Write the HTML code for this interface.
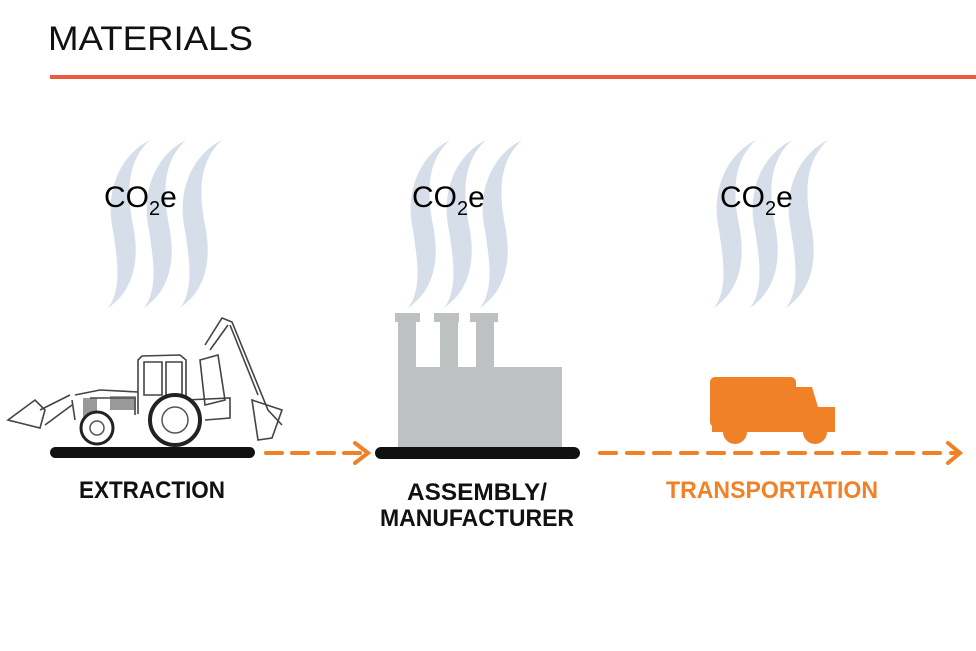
<!DOCTYPE html>
<html><head><meta charset="utf-8"><style>
html,body{margin:0;padding:0;background:#fff;}
svg{display:block}
</style></head><body>
<svg width="976" height="651" viewBox="0 0 976 651" xmlns="http://www.w3.org/2000/svg">
<defs>
<g id="wisp">
<path d="M42,0 C12,15 -2,50 4,85 C10,120 14,150 0,168 C26,150 32,120 25,85 C18,50 20,20 42,0 Z" fill="#d6deea"/>
</g>
<g id="smoke">
<use href="#wisp" x="0" y="0"/>
<use href="#wisp" x="36" y="0"/>
<use href="#wisp" x="72" y="0"/>
</g>
</defs>
<text x="48" y="50" font-family="Liberation Sans, sans-serif" font-size="34" fill="#111" textLength="205" lengthAdjust="spacingAndGlyphs">MATERIALS</text>
<rect x="50" y="75" width="926" height="4" fill="#ec5b3d"/>

<use href="#smoke" x="108" y="140"/>
<use href="#smoke" x="408" y="140"/>
<use href="#smoke" x="714" y="140"/>

<g font-family="Liberation Sans, sans-serif" fill="#000">
<text x="104" y="207" font-size="30">CO<tspan font-size="20" dy="8">2</tspan><tspan dy="-8">e</tspan></text>
<text x="412" y="207" font-size="30">CO<tspan font-size="20" dy="8">2</tspan><tspan dy="-8">e</tspan></text>
<text x="720" y="207" font-size="30">CO<tspan font-size="20" dy="8">2</tspan><tspan dy="-8">e</tspan></text>
</g>

<!-- tractor -->
<g fill="none" stroke="#444" stroke-width="1.6">
<path d="M138,414 L138,360 L142,356 L180,355 L186,360 L186,400"/>
<path d="M144,362 L162,362 L162,395 L144,395 Z M166,362 L182,362 L182,395 L166,395 Z"/>
<path d="M75,395 L100,390 L138,392 M72,400 L75,420 M90,398 L135,398 L135,415"/>
<path d="M8,420 L35,400 L45,410 L40,428 Z"/>
<path d="M40,410 L70,395 M45,425 L72,405"/>
<path d="M205,345 L222,318 L232,322 L268,410 L282,425 M210,350 L228,325 M230,325 L258,395"/>
<path d="M252,400 L282,410 L272,438 L258,440 Z"/>
<path d="M200,360 L218,355 L225,400 L205,405 Z"/>
<path d="M186,400 L230,398 L230,418 L205,420"/>
</g>
<g fill="#555">
<rect x="110" y="396" width="26" height="14" opacity=".6"/>
<rect x="83" y="398" width="14" height="22" opacity=".6"/>
</g>
<circle cx="97" cy="428" r="16" fill="#fff" stroke="#222" stroke-width="3"/>
<circle cx="97" cy="428" r="7" fill="none" stroke="#555" stroke-width="1.5"/>
<circle cx="175" cy="420" r="25" fill="#fff" stroke="#222" stroke-width="4"/>
<circle cx="175" cy="420" r="13" fill="none" stroke="#555" stroke-width="1.5"/>

<!-- factory -->
<g fill="#bec1c2">
<rect x="395" y="313" width="25" height="9"/>
<rect x="434" y="313" width="25" height="9"/>
<rect x="470" y="313" width="28" height="9"/>
<rect x="398" y="320" width="18" height="50"/>
<rect x="440" y="320" width="18" height="50"/>
<rect x="476" y="320" width="18" height="50"/>
<rect x="398" y="367" width="164" height="80"/>
</g>

<!-- truck -->
<g fill="#f08127">
<rect x="710" y="377" width="86" height="50" rx="5"/>
<path d="M794,387 L812,387 L818,407 L835,407 L835,432 L794,432 Z"/>
<rect x="712" y="420" width="120" height="12"/>
<circle cx="735" cy="432" r="12"/>
<circle cx="815" cy="432" r="12"/>
</g>

<!-- bars -->
<rect x="50" y="447" width="205" height="11" rx="5.5" fill="#111"/>
<rect x="375" y="447" width="205" height="12" rx="6" fill="#111"/>

<!-- arrows -->
<g stroke="#f08127" stroke-width="4" fill="none" stroke-linecap="round">
<line x1="266" y1="453" x2="365" y2="453" stroke-dasharray="16,10"/>
<path d="M355,443 L368,453 L355,463"/>
<line x1="600" y1="453" x2="955" y2="453" stroke-dasharray="16,11"/>
<path d="M948,443 L960,453 L948,463"/>
</g>

<g font-family="Liberation Sans, sans-serif" font-weight="bold" font-size="24" text-anchor="middle">
<text x="152" y="498" fill="#111" textLength="146" lengthAdjust="spacingAndGlyphs">EXTRACTION</text>
<text x="477" y="500" fill="#111" textLength="140" lengthAdjust="spacingAndGlyphs">ASSEMBLY/</text>
<text x="477" y="526" fill="#111" textLength="194" lengthAdjust="spacingAndGlyphs">MANUFACTURER</text>
<text x="772" y="498" fill="#f08127" textLength="212" lengthAdjust="spacingAndGlyphs">TRANSPORTATION</text>
</g>
</svg>
</body></html>
